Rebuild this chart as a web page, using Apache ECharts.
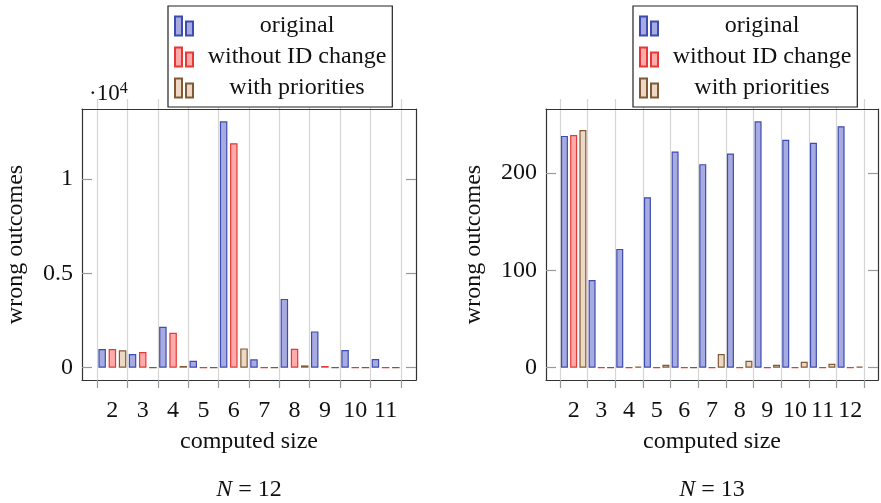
<!DOCTYPE html>
<html>
<head>
<meta charset="utf-8">
<script src="https://cdn.jsdelivr.net/npm/echarts@6/dist/echarts.min.js"></script>
<style>
  html, body { margin: 0; padding: 0; background: #fff; }
  #chart { width: 881px; height: 503px; }
</style>
</head>
<body>
<div id="chart"></div>
<script>
// N = 12
var sizesN12 = [2, 3, 4, 5, 6, 7, 8, 9, 10, 11];
var originalN12 = [990, 720, 2170, 370, 13040, 440, 3640, 1920, 930, 460];
var noIdChangeN12 = [990, 830, 1850, 0, 11880, 0, 1000, 90, 0, 0];
var prioritiesN12 = [920, 0, 90, 0, 1020, 0, 120, 0, 0, 0];
var yTicksN12 = [0, 5000, 10000];

// N = 13
var sizesN13 = [2, 3, 4, 5, 6, 7, 8, 9, 10, 11, 12];
var originalN13 = [238, 90, 122, 175, 222, 209, 220, 253, 234, 231, 248];
var noIdChangeN13 = [239, 0, 0, 0, 0, 0, 0, 0, 0, 0, 0];
var prioritiesN13 = [244, 0, 1, 3, 0, 14, 7, 3, 6, 4, 1];
var yTicksN13 = [0, 100, 200];

var seriesNames = ['original', 'without ID change', 'with priorities'];

var font = 'Liberation Serif';
var fs = 24;
var styles = {
  'original': { color: '#a8abe0', borderColor: '#3c4cb0', borderWidth: 1.2 },
  'without ID change': { color: '#ffabab', borderColor: '#e53935', borderWidth: 1.2 },
  'with priorities': { color: '#ecd8c4', borderColor: '#7f5a35', borderWidth: 1.2 }
};

function pairs(xs, ys) {
  return xs.map(function (x, i) { return [x, ys[i]]; });
}
function bounds(xs) {
  var b = xs.map(function (x) { return x - 0.5; });
  b.push(xs[xs.length - 1] + 0.5);
  return b;
}
function maxOf(arrs) {
  return Math.max.apply(null, [].concat.apply([], arrs));
}

function makeX(gridIndex, sizes, bottom) {
  return {
    type: 'value',
    gridIndex: gridIndex,
    position: bottom ? 'bottom' : 'top',
    min: sizes[0] - 1,
    max: sizes[sizes.length - 1] + 1,
    axisLine: { show: true, onZero: false, lineStyle: { color: '#333', width: 1.2 } },
    axisTick: {
      show: true, inside: false, length: bottom ? 8 : 10,
      customValues: bounds(sizes),
      lineStyle: { color: bottom ? '#999' : '#d4d4d4', width: 1.2 }
    },
    axisLabel: bottom
      ? { show: true, customValues: sizes, margin: 19, fontFamily: font, fontSize: fs, color: '#111' }
      : { show: false },
    splitLine: { show: bottom, lineStyle: { color: '#d6d6d6', width: 1.2 } },
    name: bottom ? 'computed size' : '',
    nameLocation: 'middle',
    nameGap: 50,
    nameTextStyle: { fontFamily: font, fontSize: fs, color: '#111' }
  };
}

function makeY(gridIndex, ticks, left, range, formatter, nameGap) {
  return {
    type: 'value',
    gridIndex: gridIndex,
    position: left ? 'left' : 'right',
    min: range[0],
    max: range[1],
    axisLine: { show: true, onZero: false, lineStyle: { color: '#333', width: 1.2 } },
    axisTick: {
      show: true, inside: true, length: 10,
      customValues: ticks,
      lineStyle: { color: '#999', width: 1.2 }
    },
    axisLabel: {
      show: left, customValues: ticks, formatter: formatter, margin: 9,
      fontFamily: font, fontSize: fs, color: '#111'
    },
    splitLine: { show: false },
    name: left ? 'wrong outcomes' : '',
    nameLocation: 'middle',
    nameGap: nameGap,
    nameTextStyle: { fontFamily: font, fontSize: fs, color: '#111' }
  };
}

function makeLegend(left) {
  return {
    data: seriesNames,
    orient: 'vertical',
    left: left,
    top: 6,
    padding: [8, 6, 7, 6],
    itemGap: 7,
    itemWidth: 18,
    itemHeight: 19,
    itemTextGap: 4,
    icon: 'path://M0,0h7v19h-7zM11,5h7v14h-7z',
    backgroundColor: '#fff',
    borderColor: '#222',
    borderWidth: 1.2,
    selectedMode: false,
    formatter: function (name) { return '{t|' + name + '}'; },
    textStyle: {
      rich: {
        t: { width: 198, align: 'center', fontFamily: font, fontSize: fs, color: '#111' }
      }
    }
  };
}

function makeSeries(xi, yi, sizes, lists, barWidth, barGap) {
  return seriesNames.map(function (name, i) {
    return {
      type: 'bar',
      name: name,
      xAxisIndex: xi,
      yAxisIndex: yi,
      barWidth: barWidth,
      barGap: barGap,
      itemStyle: styles[name],
      data: pairs(sizes, lists[i])
    };
  });
}

var listsN12 = [originalN12, noIdChangeN12, prioritiesN12];
var listsN13 = [originalN13, noIdChangeN13, prioritiesN13];
var topN12 = maxOf(listsN12), topN13 = maxOf(listsN13);
var rangeN12 = [-0.05 * topN12, 1.05 * topN12];
var rangeN13 = [-0.05 * topN13, 1.05 * topN13];

var chart = echarts.init(document.getElementById('chart'));
var option = {
  animation: false,
  backgroundColor: '#fff',
  title: [
    {
      text: '·10{sup|4}', left: 89, top: 81, padding: 0,
      textStyle: {
        fontFamily: font, fontSize: 23, fontWeight: 'normal', color: '#111',
        rich: { sup: { fontFamily: font, fontSize: 16, verticalAlign: 'top', padding: [0, 0, 10, 0], color: '#111' } }
      }
    },
    {
      text: '{i|N} = 12', left: 249, top: 478, textAlign: 'center', padding: 0,
      textStyle: {
        fontFamily: font, fontSize: fs, fontWeight: 'normal', color: '#111',
        rich: { i: { fontFamily: font, fontSize: fs, fontStyle: 'italic', color: '#111' } }
      }
    },
    {
      text: '{i|N} = 13', left: 712, top: 478, textAlign: 'center', padding: 0,
      textStyle: {
        fontFamily: font, fontSize: fs, fontWeight: 'normal', color: '#111',
        rich: { i: { fontFamily: font, fontSize: fs, fontStyle: 'italic', color: '#111' } }
      }
    }
  ],
  legend: [makeLegend(168), makeLegend(633)],
  grid: [
    { left: 82, top: 109, width: 334, height: 271 },
    { left: 546, top: 109, width: 332, height: 271 }
  ],
  xAxis: [
    makeX(0, sizesN12, true),
    makeX(0, sizesN12, false),
    makeX(1, sizesN13, true),
    makeX(1, sizesN13, false)
  ],
  yAxis: [
    makeY(0, yTicksN12, true, rangeN12, function (v) { return String(v / 10000); }, 54),
    makeY(0, yTicksN12, false, rangeN12, null, 0),
    makeY(1, yTicksN13, true, rangeN13, null, 60),
    makeY(1, yTicksN13, false, rangeN13, null, 0)
  ],
  series: [].concat(
    makeSeries(0, 0, sizesN12, listsN12, 7.5, '36%'),
    makeSeries(2, 2, sizesN13, listsN13, 7, '32%')
  )
};
chart.setOption(option);
</script>
</body>
</html>
